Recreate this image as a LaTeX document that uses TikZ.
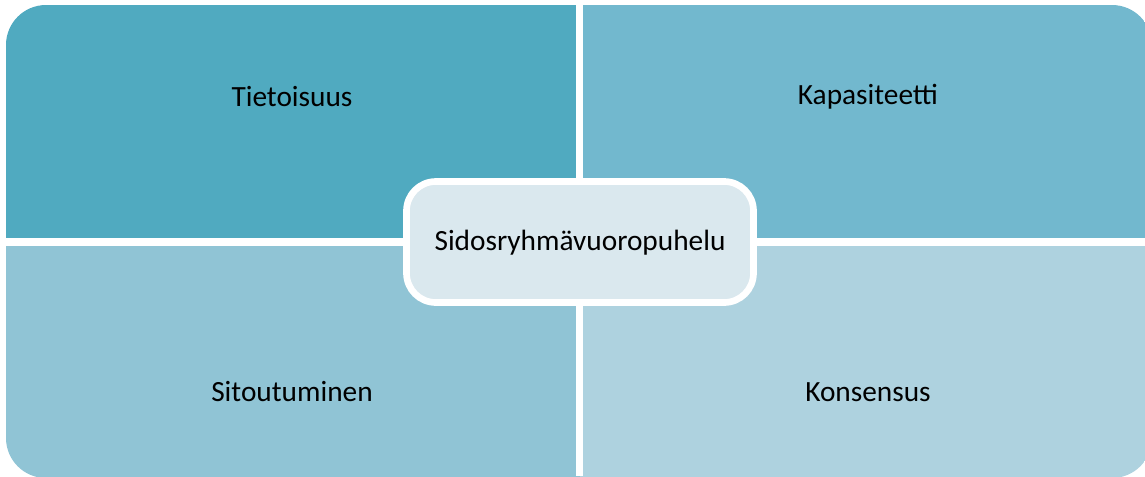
\documentclass[tikz,border=0pt]{standalone}
\usepackage{fontspec}
\setmainfont{Carlito}
\definecolor{quadA}{HTML}{50AAC0}
\definecolor{quadB}{HTML}{72B8CE}
\definecolor{quadC}{HTML}{90C4D5}
\definecolor{quadD}{HTML}{AED2DF}
\definecolor{midbox}{HTML}{DAE8EE}
\tikzset{
	label text/.style={font=\fontsize{22}{26}\selectfont, text=black},
	gap line/.style={white, line width = 5.5},
}
\begin{document}
\begin{tikzpicture}[x=0.75pt, y=-0.75pt]
	\useasboundingbox (0,0) rectangle (1145,476);
	\begin{scope}
		\clip[rounded corners=30] (6,5) rectangle (1152,478);
		\fill[quadA] (6,5) rectangle (579.5,242);
		\fill[quadB] (579.5,5) rectangle (1152,242);
		\fill[quadC] (6,242) rectangle (579.5,478);
		\fill[quadD] (579.5,242) rectangle (1152,478);
	\end{scope}
	
	\draw[gap line] (579.5,0) -- (579.5,476);
	\draw[gap line] (0,242) -- (1145,242);
	
	\node[label text] (tieto) at (292,97) {Tietoisuus};
	\node[label text] (kapa) at (868,97) {Kapasiteetti};
	\node[label text] (sitou) at (292,392) {Sitoutuminen};
	\node[label text] (konse) at (868,392) {Konsensus};
	
	\filldraw[fill=midbox, draw=white, line width = 5, rounded corners=22] (406.5,181.5) rectangle (753.5,302.5);
	\node[label text] (dialogi) at (580,243) {Sidosryhmävuoropuhelu};
\end{tikzpicture}
\end{document}
